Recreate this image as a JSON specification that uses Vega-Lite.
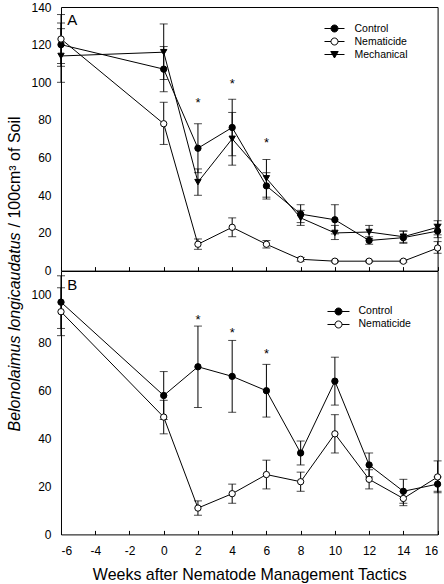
{
  "$schema": "https://vega.github.io/schema/vega-lite/v6.json",
  "background": "white",
  "padding": {"left": 6, "top": 0, "right": 0, "bottom": 0},
  "spacing": 0,
  "bounds": "flush",
  "config": {
    "font": "Liberation Sans",
    "view": {"stroke": "black", "strokeWidth": 1},
    "mark": {"color": "black"},
    "rule": {"color": "black"},
    "tick": {"color": "black", "thickness": 1},
    "axis": {
      "domainColor": "black", "tickColor": "black", "labelColor": "black", "titleColor": "black",
      "grid": false, "labelFont": "Liberation Sans", "labelFontSize": 12,
      "titleFont": "Liberation Sans", "titleFontWeight": "normal", "titleFontSize": 16
    },
    "legend": {
      "labelFont": "Liberation Sans", "labelFontSize": 10.5, "labelColor": "black",
      "symbolSize": 100, "symbolStrokeColor": "black", "symbolStrokeWidth": 1,
      "labelOffset": 14.5, "rowPadding": 2, "padding": 0, "symbolOpacity": 1
    }
  },
  "datasets": {
    "A": [
      {"series": "Control", "week": -6, "value": 120, "lo": 108.5, "hi": 131.5},
      {"series": "Control", "week": 0, "value": 107, "lo": 95, "hi": 119},
      {"series": "Control", "week": 2, "value": 65, "lo": 52, "hi": 78},
      {"series": "Control", "week": 4, "value": 76, "lo": 61, "hi": 91},
      {"series": "Control", "week": 6, "value": 45, "lo": 38, "hi": 52},
      {"series": "Control", "week": 8, "value": 30, "lo": 25.5, "hi": 35},
      {"series": "Control", "week": 10, "value": 27, "lo": 19.5, "hi": 35},
      {"series": "Control", "week": 12, "value": 16, "lo": 14, "hi": 18},
      {"series": "Control", "week": 14, "value": 17.5, "lo": 14.5, "hi": 21},
      {"series": "Control", "week": 16, "value": 21, "lo": 17.5, "hi": 24.7},
      {"series": "Nematicide", "week": -6, "value": 123, "lo": 110, "hi": 136},
      {"series": "Nematicide", "week": 0, "value": 78, "lo": 67, "hi": 89.4},
      {"series": "Nematicide", "week": 2, "value": 14, "lo": 11.3, "hi": 16.8},
      {"series": "Nematicide", "week": 4, "value": 23, "lo": 18, "hi": 28},
      {"series": "Nematicide", "week": 6, "value": 14, "lo": 12, "hi": 16},
      {"series": "Nematicide", "week": 8, "value": 6, "lo": 5, "hi": 7},
      {"series": "Nematicide", "week": 10, "value": 5, "lo": 4.5, "hi": 5.5},
      {"series": "Nematicide", "week": 12, "value": 5, "lo": 4.5, "hi": 5.5},
      {"series": "Nematicide", "week": 14, "value": 5, "lo": 4.5, "hi": 5.5},
      {"series": "Nematicide", "week": 16, "value": 12, "lo": 9.2, "hi": 15.4},
      {"series": "Mechanical", "week": -6, "value": 114, "lo": 100, "hi": 128.5},
      {"series": "Mechanical", "week": 0, "value": 116, "lo": 101.5, "hi": 131},
      {"series": "Mechanical", "week": 2, "value": 47, "lo": 40, "hi": 54},
      {"series": "Mechanical", "week": 4, "value": 70, "lo": 56, "hi": 84},
      {"series": "Mechanical", "week": 6, "value": 49, "lo": 39, "hi": 59},
      {"series": "Mechanical", "week": 8, "value": 28, "lo": 24, "hi": 32},
      {"series": "Mechanical", "week": 10, "value": 20, "lo": 16.5, "hi": 24},
      {"series": "Mechanical", "week": 12, "value": 20.5, "lo": 17, "hi": 24},
      {"series": "Mechanical", "week": 14, "value": 18, "lo": 15, "hi": 21},
      {"series": "Mechanical", "week": 16, "value": 23, "lo": 19, "hi": 26.5}
    ],
    "B": [
      {"series": "Control", "week": -6, "value": 97, "lo": 86, "hi": 108},
      {"series": "Control", "week": 0, "value": 58, "lo": 48, "hi": 68},
      {"series": "Control", "week": 2, "value": 70, "lo": 53, "hi": 87},
      {"series": "Control", "week": 4, "value": 66, "lo": 51, "hi": 81},
      {"series": "Control", "week": 6, "value": 60, "lo": 49, "hi": 71},
      {"series": "Control", "week": 8, "value": 34, "lo": 29, "hi": 39},
      {"series": "Control", "week": 10, "value": 64, "lo": 54, "hi": 74},
      {"series": "Control", "week": 12, "value": 29, "lo": 24, "hi": 34},
      {"series": "Control", "week": 14, "value": 18, "lo": 13, "hi": 23},
      {"series": "Control", "week": 16, "value": 21, "lo": 18, "hi": 24},
      {"series": "Nematicide", "week": -6, "value": 93, "lo": 83, "hi": 103},
      {"series": "Nematicide", "week": 0, "value": 49, "lo": 42, "hi": 56},
      {"series": "Nematicide", "week": 2, "value": 11, "lo": 8, "hi": 14},
      {"series": "Nematicide", "week": 4, "value": 17, "lo": 13, "hi": 21},
      {"series": "Nematicide", "week": 6, "value": 25, "lo": 19, "hi": 31},
      {"series": "Nematicide", "week": 8, "value": 22, "lo": 18, "hi": 26},
      {"series": "Nematicide", "week": 10, "value": 42, "lo": 34, "hi": 50},
      {"series": "Nematicide", "week": 12, "value": 23, "lo": 19, "hi": 27},
      {"series": "Nematicide", "week": 14, "value": 15, "lo": 12, "hi": 18},
      {"series": "Nematicide", "week": 16, "value": 24, "lo": 17.4, "hi": 30.7}
    ],
    "notesA": [
      {"week": 2, "value": 91, "label": "*"},
      {"week": 4, "value": 101, "label": "*"},
      {"week": 6, "value": 69.6, "label": "*"}
    ],
    "notesB": [
      {"week": 2, "value": 91.2, "label": "*"},
      {"week": 4, "value": 85.4, "label": "*"},
      {"week": 6, "value": 76.6, "label": "*"}
    ],
    "panelA": [{"week": -5.63, "value": 130.2, "label": "A"}],
    "panelB": [{"week": -5.63, "value": 102.1, "label": "B"}]
  },
  "vconcat": [
    {
      "width": 376.6,
      "height": 263.6,
      "data": {"name": "A"},
      "encoding": {
        "x": {"field": "week", "type": "quantitative", "scale": {"domain": [-6, 16], "nice": false, "zero": false},
          "axis": {"values": [-6, -4, -2, 0, 2, 4, 6, 8, 10, 12, 14, 16], "labels": false, "title": null, "tickSize": -4, "domain": false}},
        "y": {"field": "value", "type": "quantitative", "scale": {"domain": [0, 140], "nice": false},
          "axis": {"values": [0, 20, 40, 60, 80, 100, 120, 140], "ticks": false, "tickSize": 0, "labelPadding": 10, "domain": false,
            "title": "/ 100cm³ of Soil", "titleX": -41, "titleY": 220, "titleAngle": -90, "titleAlign": "left", "titleBaseline": "alphabetic"}}
      },
      "layer": [
        {
          "mark": {"type": "errorbar", "color": "black", "ticks": {"size": 8, "color": "black"}},
          "encoding": {
            "y": {"field": "lo", "type": "quantitative", "scale": {"domain": [0, 140], "nice": false},
              "axis": {"values": [0, 20, 40, 60, 80, 100, 120, 140], "ticks": false, "tickSize": 0, "labelPadding": 10, "domain": false,
                "title": "/ 100cm³ of Soil", "titleX": -41, "titleY": 220, "titleAngle": -90, "titleAlign": "left", "titleBaseline": "alphabetic"}},
            "y2": {"field": "hi"}
          }
        },
        {
          "mark": {"type": "line", "color": "black", "strokeWidth": 1},
          "encoding": {"detail": {"field": "series"}}
        },
        {
          "mark": {"type": "point", "filled": true, "stroke": "black", "strokeWidth": 1, "opacity": 1, "size": 40},
          "encoding": {
            "shape": {"field": "series", "type": "nominal", "scale": {"domain": ["Control", "Nematicide", "Mechanical"], "range": ["circle", "circle", "triangle-down"]}, "legend": null},
            "fill": {"field": "series", "type": "nominal", "scale": {"domain": ["Control", "Nematicide", "Mechanical"], "range": ["black", "white", "black"]}, "legend": null}
          }
        },
        {
          "transform": [{"filter": "false"}],
          "mark": {"type": "point", "filled": true, "stroke": "black", "strokeWidth": 1, "opacity": 1},
          "encoding": {
            "shape": {"field": "series", "type": "nominal",
              "scale": {"domain": ["Control", "Nematicide", "Mechanical"], "range": [
                "M-2,0H-0.7M0.7,0H2M-0.7,0A0.7,0.7,0,1,1,0.7,0A0.7,0.7,0,1,1,-0.7,0Z",
                "M-2,0H-0.7M0.7,0H2M-0.7,0A0.7,0.7,0,1,1,0.7,0A0.7,0.7,0,1,1,-0.7,0Z",
                "M-2,0H2M-0.74,-0.6H0.74L0,0.7Z"]},
              "legend": {"orient": "none", "legendX": 268, "legendY": 16, "title": null,
                "encode": {"symbols": {"update": {"stroke": {"value": "black"}, "strokeWidth": {"value": 1}, "opacity": {"value": 1}}}}}},
            "fill": {"field": "series", "type": "nominal", "scale": {"domain": ["Control", "Nematicide", "Mechanical"], "range": ["black", "white", "black"]},
              "legend": {"orient": "none", "legendX": 268, "legendY": 16, "title": null,
                "encode": {"symbols": {"update": {"stroke": {"value": "black"}, "strokeWidth": {"value": 1}, "opacity": {"value": 1}}}}}}
          }
        },
        {
          "data": {"name": "notesA"},
          "mark": {"type": "text", "fontSize": 13, "dy": 3.5, "color": "black", "baseline": "middle"},
          "encoding": {"text": {"field": "label"}}
        },
        {
          "data": {"name": "panelA"},
          "mark": {"type": "text", "fontSize": 15, "align": "left", "baseline": "alphabetic", "color": "black"},
          "encoding": {"text": {"field": "label"}}
        }
      ],
      "resolve": {"scale": {"shape": "independent", "fill": "independent"}, "legend": {"shape": "independent", "fill": "independent"}}
    },
    {
      "width": 376.6,
      "height": 263.4,
      "data": {"name": "B"},
      "encoding": {
        "x": {"field": "week", "type": "quantitative", "scale": {"domain": [-6, 16], "nice": false, "zero": false},
          "axis": {"values": [-6, -4, -2, 0, 2, 4, 6, 8, 10, 12, 14, 16], "labelExpr": "'' + datum.value", "title": "Weeks after Nematode Management Tactics", "tickSize": -4, "labelPadding": 15, "titlePadding": 10, "domain": false}},
        "y": {"field": "value", "type": "quantitative", "scale": {"domain": [0, 110], "nice": false},
          "axis": {"values": [0, 20, 40, 60, 80, 100], "ticks": false, "tickSize": 0, "labelPadding": 10, "domain": false,
            "title": "Belonolaimus longicaudatus", "titleFontStyle": "italic", "titleX": -41, "titleY": 160, "titleAngle": -90, "titleAlign": "left", "titleBaseline": "alphabetic"}}
      },
      "layer": [
        {
          "mark": {"type": "errorbar", "color": "black", "ticks": {"size": 8, "color": "black"}},
          "encoding": {
            "y": {"field": "lo", "type": "quantitative", "scale": {"domain": [0, 110], "nice": false},
              "axis": {"values": [0, 20, 40, 60, 80, 100], "ticks": false, "tickSize": 0, "labelPadding": 10, "domain": false,
                "title": "Belonolaimus longicaudatus", "titleFontStyle": "italic", "titleX": -41, "titleY": 160, "titleAngle": -90, "titleAlign": "left", "titleBaseline": "alphabetic"}},
            "y2": {"field": "hi"}
          }
        },
        {
          "mark": {"type": "line", "color": "black", "strokeWidth": 1},
          "encoding": {"detail": {"field": "series"}}
        },
        {
          "mark": {"type": "point", "filled": true, "stroke": "black", "strokeWidth": 1, "opacity": 1, "size": 40},
          "encoding": {
            "shape": {"field": "series", "type": "nominal", "scale": {"domain": ["Control", "Nematicide"], "range": ["circle", "circle"]}, "legend": null},
            "fill": {"field": "series", "type": "nominal", "scale": {"domain": ["Control", "Nematicide"], "range": ["black", "white"]}, "legend": null}
          }
        },
        {
          "transform": [{"filter": "false"}],
          "mark": {"type": "point", "filled": true, "stroke": "black", "strokeWidth": 1, "opacity": 1},
          "encoding": {
            "shape": {"field": "series", "type": "nominal",
              "scale": {"domain": ["Control", "Nematicide"], "range": [
                "M-2.2,0H-0.7M0.7,0H2.2M-0.7,0A0.7,0.7,0,1,1,0.7,0A0.7,0.7,0,1,1,-0.7,0Z",
                "M-2.2,0H-0.7M0.7,0H2.2M-0.7,0A0.7,0.7,0,1,1,0.7,0A0.7,0.7,0,1,1,-0.7,0Z"]},
              "legend": {"orient": "none", "legendX": 272, "legendY": 35, "title": null,
                "encode": {"symbols": {"update": {"stroke": {"value": "black"}, "strokeWidth": {"value": 1}, "opacity": {"value": 1}}}}}},
            "fill": {"field": "series", "type": "nominal", "scale": {"domain": ["Control", "Nematicide"], "range": ["black", "white"]},
              "legend": {"orient": "none", "legendX": 272, "legendY": 35, "title": null,
                "encode": {"symbols": {"update": {"stroke": {"value": "black"}, "strokeWidth": {"value": 1}, "opacity": {"value": 1}}}}}}
          }
        },
        {
          "data": {"name": "notesB"},
          "mark": {"type": "text", "fontSize": 13, "dy": 3.5, "color": "black", "baseline": "middle"},
          "encoding": {"text": {"field": "label"}}
        },
        {
          "data": {"name": "panelB"},
          "mark": {"type": "text", "fontSize": 15, "align": "left", "baseline": "alphabetic", "color": "black"},
          "encoding": {"text": {"field": "label"}}
        }
      ],
      "resolve": {"scale": {"shape": "independent", "fill": "independent"}, "legend": {"shape": "independent", "fill": "independent"}}
    }
  ]
}
